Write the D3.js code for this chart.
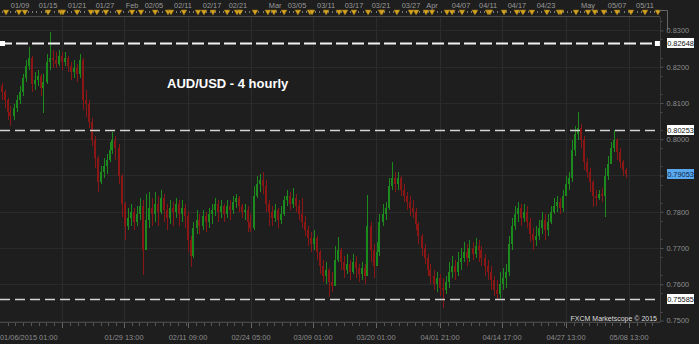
<!DOCTYPE html>
<html>
<head>
<meta charset="utf-8">
<script src="https://cdn.jsdelivr.net/npm/d3@7"></script>
<style>
body { margin: 0; background: #1e1e1e; }
svg { display: block; font-family: "Liberation Sans", Arial, sans-serif; }
</style>
</head>
<body>
<svg id="chart"></svg>
<script>

// AUD/USD 4 hourly, prices in pips (price x 10000), open = previous close
var firstOpen = 8147;
var closes = [
  8130, 8108, 8075, 8064, 8086, 8108, 8130, 8169, 8202, 8224,
  8152, 8163, 8174, 8141, 8158, 8213, 8224, 8218, 8207, 8229,
  8213, 8224, 8202, 8185, 8196, 8180, 8218, 8108, 8097, 8047,
  7998, 7948, 7882, 7910, 7926, 7943, 7970, 7998, 7976, 7899,
  7822, 7761, 7783, 7799, 7772, 7794, 7816, 7695, 7777, 7811,
  7794, 7822, 7799, 7838, 7805, 7783, 7811, 7799, 7822, 7794,
  7811, 7788, 7722, 7678, 7755, 7777, 7761, 7788, 7772, 7794,
  7805, 7822, 7799, 7816, 7794, 7816, 7805, 7827, 7838, 7816,
  7799, 7805, 7772, 7755, 7844, 7877, 7888, 7871, 7822, 7799,
  7783, 7805, 7777, 7794, 7833, 7844, 7822, 7838, 7816, 7794,
  7772, 7750, 7728, 7711, 7728, 7689, 7651, 7623, 7640, 7607,
  7596, 7667, 7695, 7662, 7640, 7656, 7634, 7662, 7645, 7629,
  7645, 7623, 7761, 7695, 7651, 7689, 7772, 7794, 7811, 7871,
  7893, 7877, 7893, 7860, 7844, 7827, 7811, 7799, 7766, 7733,
  7700, 7673, 7640, 7623, 7601, 7618, 7590, 7585, 7607, 7634,
  7651, 7634, 7662, 7673, 7689, 7673, 7700, 7684, 7706, 7695,
  7673, 7651, 7634, 7612, 7585, 7574, 7601, 7618, 7634, 7711,
  7761, 7794, 7811, 7783, 7799, 7772, 7739, 7722, 7733, 7755,
  7777, 7750, 7772, 7799, 7816, 7827, 7811, 7844, 7877, 7893,
  7970, 8014, 8031, 7998, 7937, 7910, 7882, 7844, 7838, 7849,
  7844, 7899, 7932, 7976, 7998, 7965, 7937, 7915, 7905
];
var highs = [
  8155, 8136, 8114, 8091, 8097, 8122, 8147, 8180, 8218, 8254,
  8229, 8185, 8191, 8180, 8180, 8235, 8295, 8246, 8240, 8246,
  8240, 8240, 8229, 8213, 8218, 8207, 8235, 8224, 8136, 8108,
  8058, 8009, 7954, 7926, 7948, 7959, 7992, 8020, 8009, 7987,
  7904, 7827, 7811, 7822, 7811, 7816, 7838, 7833, 7849, 7855,
  7838, 7855, 7844, 7860, 7849, 7822, 7833, 7827, 7838, 7833,
  7833, 7822, 7799, 7733, 7772, 7805, 7794, 7805, 7799, 7811,
  7822, 7838, 7833, 7833, 7822, 7833, 7833, 7844, 7849, 7844,
  7822, 7822, 7816, 7794, 7871, 7899, 7904, 7910, 7888, 7833,
  7816, 7822, 7811, 7816, 7844, 7860, 7855, 7866, 7849, 7833,
  7838, 7788, 7761, 7744, 7750, 7733, 7695, 7667, 7662, 7645,
  7634, 7706, 7731, 7700, 7678, 7684, 7667, 7684, 7678, 7656,
  7662, 7656, 7846, 7772, 7711, 7717, 7794, 7822, 7827, 7893,
  7937, 7910, 7910, 7899, 7877, 7855, 7844, 7833, 7811, 7772,
  7739, 7711, 7684, 7656, 7640, 7634, 7629, 7618, 7623, 7662,
  7678, 7667, 7689, 7700, 7717, 7711, 7722, 7717, 7728, 7722,
  7706, 7684, 7667, 7651, 7623, 7612, 7634, 7645, 7656, 7733,
  7783, 7816, 7827, 7822, 7822, 7816, 7783, 7755, 7761, 7777,
  7799, 7794, 7794, 7816, 7838, 7844, 7838, 7860, 7899, 7910,
  7998, 8036, 8075, 8042, 8009, 7948, 7921, 7888, 7860, 7860,
  7866, 7921, 7954, 7992, 8025, 8003, 7976, 7943, 7921
];
var lows = [
  8108, 8086, 8053, 8036, 8053, 8075, 8097, 8119, 8158, 8191,
  8130, 8136, 8147, 8119, 8072, 8152, 8191, 8196, 8196, 8202,
  8191, 8202, 8185, 8163, 8169, 8158, 8169, 8080, 8061, 8031,
  7981, 7921, 7855, 7877, 7893, 7904, 7937, 7959, 7943, 7877,
  7786, 7722, 7750, 7761, 7750, 7761, 7777, 7626, 7706, 7755,
  7761, 7772, 7761, 7794, 7772, 7750, 7766, 7761, 7783, 7761,
  7772, 7755, 7689, 7648, 7673, 7739, 7739, 7750, 7744, 7755,
  7766, 7788, 7772, 7783, 7772, 7783, 7777, 7794, 7811, 7799,
  7783, 7777, 7744, 7744, 7750, 7838, 7855, 7849, 7799, 7761,
  7761, 7772, 7755, 7766, 7788, 7816, 7805, 7811, 7799, 7777,
  7755, 7733, 7706, 7689, 7695, 7667, 7629, 7607, 7601, 7565,
  7579, 7596, 7662, 7640, 7618, 7629, 7612, 7629, 7618, 7607,
  7612, 7601, 7623, 7662, 7618, 7662, 7678, 7761, 7777, 7805,
  7860, 7855, 7860, 7844, 7827, 7805, 7788, 7783, 7750, 7711,
  7678, 7656, 7623, 7601, 7585, 7579, 7568, 7535, 7574, 7590,
  7618, 7612, 7623, 7640, 7662, 7651, 7662, 7667, 7673, 7662,
  7651, 7623, 7612, 7585, 7568, 7557, 7563, 7585, 7590, 7623,
  7695, 7750, 7772, 7761, 7772, 7755, 7717, 7695, 7706, 7722,
  7739, 7722, 7733, 7766, 7794, 7799, 7794, 7799, 7844, 7860,
  7882, 7954, 7998, 7976, 7915, 7893, 7855, 7813, 7816, 7833,
  7827, 7786, 7888, 7937, 7965, 7943, 7921, 7899, 7893
];

// time axis, positions in bar slots
var gridSlots = [0, 20.67, 41.33, 62.67, 83.67, 104.33, 125.33, 146.67, 167.33, 188.67, 209.67];
var bottomLabels = ["01/06/2015 01:00", "", "01/29 13:00", "02/11 09:00", "02/24 05:00", "03/09 01:00",
                    "03/20 01:00", "04/01 21:00", "04/14 17:00", "04/27 13:00", "05/08 13:00"];
var topSlots = [6.7, 16, 25.7, 35, 44, 51.3, 61, 70.7, 79.3, 91.7, 99, 108.7, 118, 127, 137, 144,
                153.7, 162.7, 172.3, 182, 196, 205.7, 215];
var topLabels = ["01/09", "01/15", "01/21", "01/27", "Feb", "02/05", "02/11", "02/17", "02/21", "Mar",
                 "03/05", "03/11", "03/17", "03/21", "03/27", "Apr", "04/07", "04/11", "04/17", "04/23",
                 "May", "05/07", "05/11"];
var eventSlots = [2, 6.3, 8.3, 16, 20.3, 21, 25.7, 30.3, 32.3, 35.3, 39.7, 44, 47, 51.7, 56, 57, 61.3,
                  66, 68, 71, 75.7, 79, 80, 85, 89.3, 91.3, 94.7, 99.3, 103.3, 104, 108.7, 113, 115,
                  118, 122.7, 127, 127.3, 132.3, 137, 138.7, 142, 144, 149, 150.7, 154, 158.3, 162.7,
                  163.3, 168, 172.3, 174.3, 177.3, 182.3, 186.3, 187, 192, 196, 198.3, 201.3, 205.7,
                  210.3, 215, 219.3];

// price axis
var priceTicks = [0.75, 0.76, 0.77, 0.78, 0.79, 0.80, 0.81, 0.82, 0.83];
var levels = [0.82648, 0.80253, 0.75585];
var lastPrice = 0.79053;


var width = 699, height = 344;
var plotRight = 660, plotTop = 17, plotBottom = 322;

var svg = d3.select("#chart");
svg.attr("width", width);
svg.attr("height", height);

svg.append("rect")
    .attr("width", width)
    .attr("height", height)
    .attr("fill", "#1e1e1e");

var xScale = d3.scaleLinear().domain([0, 220]).range([0, plotRight]),
    yScale = d3.scaleLinear().domain([0.75, 0.83]).range([320.6, 30.4]);

var candles = closes.map(function(c, i) {
    var o = i == 0 ? firstOpen : closes[i - 1];
    return {
        i: i,
        open: o / 10000,
        close: c / 10000,
        high: Math.max(highs[i], o, c) / 10000,
        low: Math.min(lows[i], o, c) / 10000
    };
});

// grid
var grid = svg.append("g").attr("shape-rendering", "crispEdges");
grid.selectAll(".hgrid")
    .data(priceTicks)
    .enter().append("line")
    .attr("x1", 0)
    .attr("x2", plotRight)
    .attr("y1", function(d) { return Math.round(yScale(d)) + 0.5; })
    .attr("y2", function(d) { return Math.round(yScale(d)) + 0.5; })
    .attr("stroke", "#2a2a2a");
grid.selectAll(".vgrid")
    .data(gridSlots.slice(1))
    .enter().append("line")
    .attr("x1", function(d) { return Math.round(xScale(d)) + 0.5; })
    .attr("x2", function(d) { return Math.round(xScale(d)) + 0.5; })
    .attr("y1", plotTop)
    .attr("y2", plotBottom)
    .attr("stroke", "#2c2c2c");

// candles
var cg = svg.append("g").attr("shape-rendering", "crispEdges");
var bar = cg.selectAll(".candle")
    .data(candles)
    .enter().append("g")
    .attr("class", "candle")
    .attr("fill", function(d) { return d.close >= d.open ? "#1d8a1d" : "#8a1616"; });
bar.append("rect")
    .attr("x", function(d) { return Math.round(xScale(d.i + 0.5)); })
    .attr("width", 1)
    .attr("y", function(d) { return yScale(d.high); })
    .attr("height", function(d) { return Math.max(1, yScale(d.low) - yScale(d.high)); });
bar.append("rect")
    .attr("x", function(d) { return Math.round(xScale(d.i + 0.5)) - 1; })
    .attr("width", 2)
    .attr("y", function(d) { return yScale(Math.max(d.open, d.close)); })
    .attr("height", function(d) { return Math.max(1, Math.abs(yScale(d.open) - yScale(d.close))); });

// horizontal levels
svg.selectAll(".level")
    .data(levels)
    .enter().append("line")
    .attr("x1", 0)
    .attr("x2", plotRight - 2)
    .attr("y1", function(d) { return Math.round(yScale(d)) + 0.5; })
    .attr("y2", function(d) { return Math.round(yScale(d)) + 0.5; })
    .attr("stroke", function(d, i) { return i == 0 ? "#f2f2f2" : "#d4d4d4"; })
    .attr("stroke-width", function(d, i) { return i == 0 ? 2 : 1.5; })
    .attr("stroke-dasharray", function(d, i) { return i == 0 ? "12,4" : "10,5"; });
// trendline handles
svg.selectAll(".handle")
    .data([0, 218.3])
    .enter().append("rect")
    .attr("x", function(d) { return xScale(d); })
    .attr("y", Math.round(yScale(levels[0])) - 2)
    .attr("width", 5)
    .attr("height", 5)
    .attr("fill", "#ffffff");

// bottom axis
var bottom = svg.append("g").attr("shape-rendering", "crispEdges");
bottom.append("line")
    .attr("x1", 0).attr("x2", plotRight)
    .attr("y1", plotBottom + 0.5).attr("y2", plotBottom + 0.5)
    .attr("stroke", "#474747");
var step = (gridSlots[2] - gridSlots[1]) / 8;
var minor = [];
gridSlots.forEach(function(s, k) {
    var end = k < gridSlots.length - 1 ? gridSlots[k + 1] : 220;
    d3.range(s + step, end - 0.5, step).forEach(function(m) { minor.push(m); });
});
bottom.selectAll(".minor")
    .data(minor)
    .enter().append("line")
    .attr("x1", function(d) { return Math.round(xScale(d)) + 0.5; })
    .attr("x2", function(d) { return Math.round(xScale(d)) + 0.5; })
    .attr("y1", plotBottom + 1)
    .attr("y2", plotBottom + 4)
    .attr("stroke", "#555");
bottom.selectAll(".major")
    .data(gridSlots.slice(1))
    .enter().append("line")
    .attr("x1", function(d) { return Math.round(xScale(d)) + 0.5; })
    .attr("x2", function(d) { return Math.round(xScale(d)) + 0.5; })
    .attr("y1", plotBottom + 1)
    .attr("y2", plotBottom + 6)
    .attr("stroke", "#666");
svg.selectAll(".blabel")
    .data(bottomLabels)
    .enter().append("text")
    .attr("x", function(d, i) { return xScale(gridSlots[i]); })
    .attr("y", 340)
    .attr("text-anchor", function(d, i) { return i == 0 ? "start" : "middle"; })
    .attr("font-size", "7.4px")
    .attr("fill", "#8c8c8c")
    .text(function(d) { return d; });

// top event strip
var strip = svg.append("g");
strip.append("line")
    .attr("x1", 0).attr("x2", plotRight)
    .attr("y1", plotTop - 0.5).attr("y2", plotTop - 0.5)
    .attr("stroke", "#4a4a4a")
    .attr("shape-rendering", "crispEdges");
strip.selectAll(".rtick")
    .data(d3.range(0.5, 220, 1.45))
    .enter().append("line")
    .attr("x1", function(d) { return Math.round(xScale(d)) + 0.5; })
    .attr("x2", function(d) { return Math.round(xScale(d)) + 0.5; })
    .attr("y1", 11)
    .attr("y2", 13)
    .attr("stroke", "#7a7a7a")
    .attr("shape-rendering", "crispEdges");
strip.selectAll(".event")
    .data(eventSlots)
    .enter().append("path")
    .attr("d", function(d) {
        var x = xScale(d);
        return "M" + (x - 3) + ",10L" + (x + 3) + ",10L" + x + ",15Z";
    })
    .attr("fill", "#d6a423")
    .attr("stroke", "#8a6a10")
    .attr("stroke-width", 0.5);
strip.selectAll(".tlabel")
    .data(topLabels)
    .enter().append("text")
    .attr("x", function(d, i) { return xScale(topSlots[i]); })
    .attr("y", 7.5)
    .attr("text-anchor", "middle")
    .attr("font-size", "7.4px")
    .attr("fill", "#9a9a9a")
    .text(function(d) { return d; });
strip.append("path")
    .attr("d", "M659,10.5H667.5V30")
    .attr("fill", "none")
    .attr("stroke", "#666");

// price axis, labels covered by the current price box are left out
var axis = svg.append("g")
    .attr("transform", "translate(" + (plotRight + 0.5) + ",0)")
    .call(d3.axisRight(yScale)
        .tickValues(priceTicks)
        .tickFormat(function(d) {
            return Math.abs(yScale(d) - yScale(lastPrice)) < 9 ? "" : d3.format(".4f")(d);
        })
        .tickSize(3)
        .tickPadding(3));
axis.select(".domain").attr("stroke", "#3c3c3c").attr("d", "M0," + plotTop + "V" + plotBottom);
axis.selectAll(".tick line").attr("stroke", "#555");
axis.selectAll(".tick text")
    .attr("fill", "#8c8c8c")
    .attr("font-size", "7.4px")
    .attr("font-family", "Liberation Sans, Arial, sans-serif");
axis.selectAll(".minortick")
    .data(d3.range(0.7525, 0.8325, 0.005))
    .enter().append("line")
    .attr("x1", 0).attr("x2", 2)
    .attr("y1", function(d) { return Math.round(yScale(d)) + 0.5; })
    .attr("y2", function(d) { return Math.round(yScale(d)) + 0.5; })
    .attr("stroke", "#4a4a4a");

// value boxes
var boxes = levels.map(function(v) { return { v: v, bg: "#ffffff", fg: "#111111" }; });
boxes.push({ v: lastPrice, bg: "#5aa8ee", fg: "#0d2748" });
var box = svg.selectAll(".vbox")
    .data(boxes)
    .enter().append("g")
    .attr("transform", function(d) { return "translate(667," + Math.round(yScale(d.v)) + ")"; });
box.append("rect")
    .attr("x", 0)
    .attr("y", -5)
    .attr("width", 27)
    .attr("height", 10)
    .attr("fill", function(d) { return d.bg; });
box.append("text")
    .attr("x", 13.5)
    .attr("y", 2.7)
    .attr("text-anchor", "middle")
    .attr("font-size", "7.4px")
    .attr("fill", function(d) { return d.fg; })
    .text(function(d) { return d3.format(".5f")(d.v); });

// labels
svg.append("text")
    .attr("x", 167)
    .attr("y", 88)
    .attr("font-size", "13px")
    .attr("font-weight", "bold")
    .attr("fill", "#ffffff")
    .text("AUD/USD - 4 hourly");

svg.append("text")
    .attr("x", 657)
    .attr("y", 320.5)
    .attr("text-anchor", "end")
    .attr("font-size", "7px")
    .attr("fill", "#dddddd")
    .text("FXCM Marketscope \u00a9 2015");

</script>
</body>
</html>
